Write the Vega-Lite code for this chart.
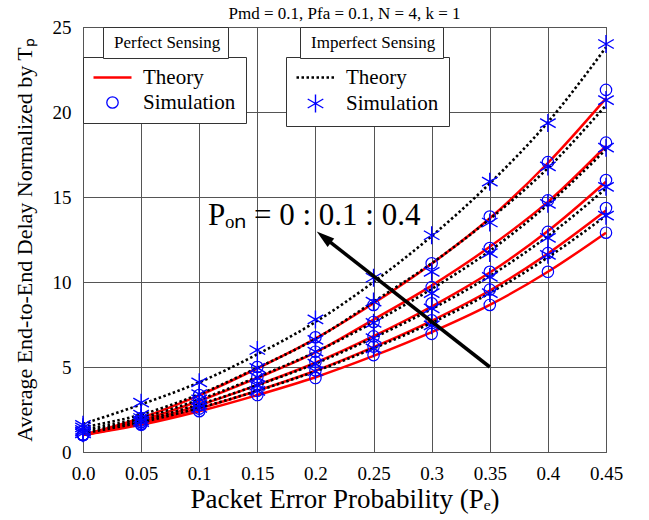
{
  "$schema": "https://vega.github.io/schema/vega-lite/v6.json",
  "width": 523,
  "height": 425,
  "autosize": {"type": "none"},
  "padding": {"left": 83, "top": 27, "right": 43, "bottom": 68},
  "title": {"text": "Pmd = 0.1, Pfa = 0.1, N = 4, k = 1", "fontSize": 17, "fontWeight": "normal", "font": "Liberation Serif", "color": "black", "anchor": "middle", "frame": "group", "baseline": "bottom", "offset": 4, "dy": 26},
  "config": {
    "font": "Liberation Serif",
    "view": {"stroke": "#444", "strokeWidth": 1},
    "axis": {"grid": true, "gridColor": "#555", "gridOpacity": 1, "gridWidth": 1, "domain": false, "ticks": false, "labelFont": "Liberation Serif", "labelFontSize": 19, "labelColor": "black", "titleFont": "Liberation Serif", "titleFontWeight": "normal", "titleColor": "black"},
    "legend": {"labelFont": "Liberation Serif", "labelColor": "black"}
  },
  "datasets": {
    "pt": [
      {"pe": 0, "p0": 1.0, "p1": 1.0, "p2": 1.0, "p3": 1.0, "p4": 1.0},
      {"pe": 0.05, "p0": 1.6, "p1": 1.67, "p2": 1.75, "p3": 1.86, "p4": 2.0},
      {"pe": 0.1, "p0": 2.4, "p1": 2.56, "p2": 2.75, "p3": 3.0, "p4": 3.33},
      {"pe": 0.15, "p0": 3.35, "p1": 3.61, "p2": 3.94, "p3": 4.36, "p4": 4.92},
      {"pe": 0.2, "p0": 4.4, "p1": 4.78, "p2": 5.25, "p3": 5.86, "p4": 6.67},
      {"pe": 0.25, "p0": 5.65, "p1": 6.17, "p2": 6.81, "p3": 7.79, "p4": 8.75},
      {"pe": 0.3, "p0": 7.05, "p1": 7.72, "p2": 8.56, "p3": 9.79, "p4": 11.08},
      {"pe": 0.35, "p0": 8.65, "p1": 9.5, "p2": 10.56, "p3": 12.07, "p4": 13.75},
      {"pe": 0.4, "p0": 10.6, "p1": 11.67, "p2": 13.0, "p3": 14.71, "p4": 17.0},
      {"pe": 0.45, "p0": 12.9, "p1": 14.2, "p2": 15.9, "p3": 18.0, "p4": 20.8}
    ],
    "ps": [
      {"pe": 0, "p0": 1.0, "p1": 1.0, "p2": 1.0, "p3": 1.0, "p4": 1.0},
      {"pe": 0.05, "p0": 1.6, "p1": 1.65, "p2": 1.75, "p3": 1.85, "p4": 2.0},
      {"pe": 0.1, "p0": 2.4, "p1": 2.55, "p2": 2.75, "p3": 3.0, "p4": 3.35},
      {"pe": 0.15, "p0": 3.35, "p1": 3.6, "p2": 3.95, "p3": 4.4, "p4": 5.0},
      {"pe": 0.2, "p0": 4.35, "p1": 4.8, "p2": 5.3, "p3": 5.9, "p4": 6.75},
      {"pe": 0.25, "p0": 5.7, "p1": 6.2, "p2": 6.8, "p3": 7.65, "p4": 8.65},
      {"pe": 0.3, "p0": 6.95, "p1": 7.75, "p2": 8.75, "p3": 9.7, "p4": 11.1},
      {"pe": 0.35, "p0": 8.65, "p1": 9.55, "p2": 10.6, "p3": 12.0, "p4": 13.85},
      {"pe": 0.4, "p0": 10.6, "p1": 11.7, "p2": 12.95, "p3": 14.8, "p4": 17.05},
      {"pe": 0.45, "p0": 12.9, "p1": 14.35, "p2": 16.0, "p3": 18.2, "p4": 21.3}
    ],
    "it": [
      {"pe": 0, "p0": 1.1, "p1": 1.2, "p2": 1.3, "p3": 1.45, "p4": 1.65},
      {"pe": 0.05, "p0": 1.75, "p1": 1.85, "p2": 2.0, "p3": 2.2, "p4": 2.8},
      {"pe": 0.1, "p0": 2.6, "p1": 2.8, "p2": 3.08, "p3": 3.4, "p4": 4.1},
      {"pe": 0.15, "p0": 3.6, "p1": 3.93, "p2": 4.41, "p3": 4.95, "p4": 5.75},
      {"pe": 0.2, "p0": 4.75, "p1": 5.2, "p2": 5.88, "p3": 6.65, "p4": 7.65},
      {"pe": 0.25, "p0": 6.1, "p1": 6.72, "p2": 7.63, "p3": 8.84, "p4": 10.0},
      {"pe": 0.3, "p0": 7.6, "p1": 8.41, "p2": 9.59, "p3": 11.1, "p4": 12.7},
      {"pe": 0.35, "p0": 9.35, "p1": 10.35, "p2": 11.83, "p3": 13.7, "p4": 15.8},
      {"pe": 0.4, "p0": 11.45, "p1": 12.7, "p2": 14.56, "p3": 16.7, "p4": 19.4},
      {"pe": 0.45, "p0": 13.9, "p1": 15.5, "p2": 17.8, "p3": 20.4, "p4": 23.8}
    ],
    "is": [
      {"pe": 0, "p0": 1.1, "p1": 1.2, "p2": 1.3, "p3": 1.45, "p4": 1.6},
      {"pe": 0.05, "p0": 1.75, "p1": 1.85, "p2": 2.0, "p3": 2.2, "p4": 2.9},
      {"pe": 0.1, "p0": 2.6, "p1": 2.8, "p2": 3.1, "p3": 3.4, "p4": 4.1},
      {"pe": 0.15, "p0": 3.6, "p1": 3.9, "p2": 4.4, "p3": 4.95, "p4": 6.0},
      {"pe": 0.2, "p0": 4.75, "p1": 5.2, "p2": 5.9, "p3": 6.6, "p4": 7.8},
      {"pe": 0.25, "p0": 6.1, "p1": 6.7, "p2": 7.6, "p3": 8.85, "p4": 10.25},
      {"pe": 0.3, "p0": 7.45, "p1": 8.45, "p2": 9.35, "p3": 10.6, "p4": 12.75},
      {"pe": 0.35, "p0": 9.35, "p1": 10.3, "p2": 11.7, "p3": 13.5, "p4": 15.9},
      {"pe": 0.4, "p0": 11.6, "p1": 12.6, "p2": 14.6, "p3": 16.8, "p4": 19.35},
      {"pe": 0.45, "p0": 13.9, "p1": 15.6, "p2": 17.9, "p3": 20.7, "p4": 24.0}
    ],
    "arrow": [{"pe": 0.35, "d": 5.0, "pe2": 0.2072, "d2": 12.64}],
    "head": [{"pe": 0.2072, "d": 12.64}],
    "note": [{"pe": 0.1076, "d": 13.35, "label": "Pₒₙ = 0 : 0.1 : 0.4"}]
  },
  "encoding": {
    "x": {"field": "pe", "type": "quantitative", "title": "Packet Error Probability (Pₑ)",
      "scale": {"domain": [0, 0.45], "nice": false, "zero": false},
      "axis": {"values": [0, 0.05, 0.1, 0.15, 0.2, 0.25, 0.3, 0.35, 0.4, 0.45], "labelExpr": "datum.value === 0 ? '0.0' : format(datum.value, '~g')", "labelPadding": 12, "titleFontSize": 27, "titlePadding": 3, "labelFlush": false}},
    "y": {"field": "d", "type": "quantitative", "title": "Average End-to-End Delay Normalized by Tₚ",
      "scale": {"domain": [0, 25], "nice": false},
      "axis": {"values": [0, 5, 10, 15, 20, 25], "labelPadding": 12, "titleFontSize": 22, "titleX": -52, "titleBaseline": "alphabetic"}}
  },
  "layer": [
    {
      "layer": [
        {
          "data": {"name": "pt"},
          "transform": [{"fold": ["p0", "p1", "p2", "p3", "p4"], "as": ["pon", "d"]}],
          "mark": {"type": "line", "strokeWidth": 2.5, "interpolate": "monotone"},
          "encoding": {
            "detail": {"field": "pon", "type": "nominal"},
            "color": {"datum": "Theory", "type": "nominal",
              "scale": {"domain": ["Theory", "Simulation"], "range": ["#ff0000", "#0000ff"]},
              "legend": {"orient": "none", "legendX": 0, "legendY": 30, "title": null, "padding": 10, "rowPadding": 3,
                "strokeColor": "#333", "fillColor": "white", "labelFontSize": 21, "labelOffset": 20, "symbolOffset": 9,
                "symbolSize": 400, "zindex": 1,
                "encode": {"symbols": {"update": {
                  "shape": {"signal": "datum.value === 'Theory' ? 'M-1.9,0L1.9,0' : 'circle'"},
                  "size": {"signal": "datum.value === 'Theory' ? 400 : 130"},
                  "stroke": {"signal": "datum.value === 'Theory' ? '#ff0000' : '#0000ff'"},
                  "fill": {"value": "transparent"},
                  "strokeWidth": {"signal": "datum.value === 'Theory' ? 2.5 : 1.3"}
                }}}}}
          }
        },
        {
          "data": {"name": "ps"},
          "transform": [{"fold": ["p0", "p1", "p2", "p3", "p4"], "as": ["pon", "d"]}],
          "mark": {"type": "point", "filled": false, "size": 130, "strokeWidth": 1.2, "opacity": 1},
          "encoding": {
            "color": {"datum": "Simulation", "type": "nominal",
              "scale": {"domain": ["Theory", "Simulation"], "range": ["#ff0000", "#0000ff"]}},
            "shape": {"datum": "Perfect Sensing", "type": "nominal",
              "scale": {"domain": ["Perfect Sensing"], "range": ["circle"]},
              "legend": {"orient": "none", "legendX": 20, "legendY": 0, "title": null, "padding": 7,
                "strokeColor": "#333", "fillColor": "white", "labelFontSize": 17, "labelOffset": -13,
                "symbolSize": 0, "symbolOpacity": 0, "symbolStrokeWidth": 0, "zindex": 1}}
          }
        }
      ]
    },
    {
      "layer": [
        {
          "data": {"name": "it"},
          "transform": [{"fold": ["p0", "p1", "p2", "p3", "p4"], "as": ["pon", "d"]}],
          "mark": {"type": "line", "strokeWidth": 2.6, "strokeDash": [2.5, 2.5], "interpolate": "monotone"},
          "encoding": {
            "detail": {"field": "pon", "type": "nominal"},
            "color": {"datum": "Theory", "type": "nominal",
              "scale": {"domain": ["Theory", "Simulation"], "range": ["#000000", "#0000ff"]},
              "legend": {"orient": "none", "legendX": 203, "legendY": 30, "title": null, "padding": 10, "rowPadding": 3,
                "strokeColor": "#333", "fillColor": "white", "labelFontSize": 21, "labelOffset": 20, "symbolOffset": 9,
                "symbolSize": 400, "zindex": 1,
                "encode": {"symbols": {"update": {
                  "shape": {"signal": "datum.value === 'Theory' ? 'M-1.9,0L1.9,0' : 'M0,-1L0,1M-0.866,-0.5L0.866,0.5M-0.866,0.5L0.866,-0.5'"},
                  "size": {"signal": "datum.value === 'Theory' ? 400 : 324"},
                  "stroke": {"signal": "datum.value === 'Theory' ? '#000000' : '#0000ff'"},
                  "strokeDash": {"signal": "datum.value === 'Theory' ? [2.5, 2.5] : [1, 0]"},
                  "fill": {"value": "transparent"},
                  "strokeWidth": {"signal": "datum.value === 'Theory' ? 2.6 : 1.4"}
                }}}}}
          }
        },
        {
          "data": {"name": "is"},
          "transform": [{"fold": ["p0", "p1", "p2", "p3", "p4"], "as": ["pon", "d"]}],
          "mark": {"type": "point", "filled": false, "size": 324, "strokeWidth": 1.4, "opacity": 1},
          "encoding": {
            "color": {"datum": "Simulation", "type": "nominal",
              "scale": {"domain": ["Theory", "Simulation"], "range": ["#000000", "#0000ff"]}},
            "shape": {"datum": "Imperfect Sensing", "type": "nominal",
              "scale": {"domain": ["Imperfect Sensing"], "range": ["M0,-1L0,1M-0.866,-0.5L0.866,0.5M-0.866,0.5L0.866,-0.5"]},
              "legend": {"orient": "none", "legendX": 217, "legendY": 0, "title": null, "padding": 7,
                "strokeColor": "#333", "fillColor": "white", "labelFontSize": 17, "labelOffset": -13,
                "symbolSize": 0, "symbolOpacity": 0, "symbolStrokeWidth": 0, "zindex": 1}}
          }
        }
      ]
    },
    {
      "data": {"name": "arrow"},
      "mark": {"type": "rule", "color": "black", "strokeWidth": 3.5},
      "encoding": {"x2": {"field": "pe2"}, "y2": {"field": "d2"}}
    },
    {
      "data": {"name": "head"},
      "mark": {"type": "point", "shape": "M0,-1L0.6,1L-0.6,1Z", "filled": true, "color": "black", "size": 324, "angle": 308, "opacity": 1},
      "encoding": {}
    },
    {
      "data": {"name": "note"},
      "mark": {"type": "text", "align": "left", "baseline": "alphabetic", "fontSize": 31, "font": "Liberation Serif", "color": "black"},
      "encoding": {"text": {"field": "label"}}
    }
  ],
  "resolve": {"scale": {"color": "independent", "shape": "independent"}}
}
